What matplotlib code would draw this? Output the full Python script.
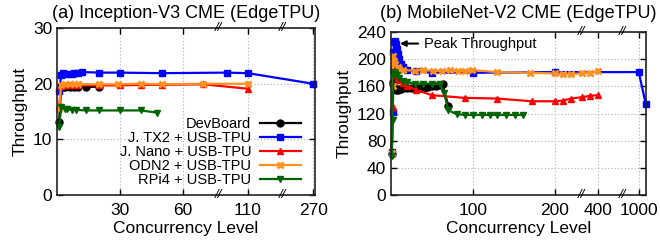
import numpy as np
import matplotlib
matplotlib.use("Agg")
import matplotlib.pyplot as plt
import matplotlib.transforms as mtransforms

plt.rcParams["font.family"] = ["Liberation Sans", "DejaVu Sans"]

labels = ["DevBoard", "J. TX2 + USB-TPU", "J. Nano + USB-TPU", "ODN2 + USB-TPU", "RPi4 + USB-TPU"]

# (a) Inception-V3
devboard_a_x = [1, 2, 3, 4, 6, 8, 10, 14, 20]
devboard_a_y = [13.1, 19.4, 19.5, 19.5, 19.5, 19.4, 19.5, 19.4, 19.5]
tx2_a_x = [1, 2, 3, 5, 7, 8, 10, 12, 20, 30, 50, 100, 110, 270]
tx2_a_y = [18.7, 21.5, 22.0, 21.8, 21.8, 21.9, 22.0, 22.1, 22.0, 22.0, 21.9, 22.0, 21.9, 20.0]
nano_a_x = [1, 2, 3, 4, 6, 8, 10, 20, 30, 40, 50, 70, 110]
nano_a_y = [16.0, 19.6, 19.7, 19.7, 19.7, 19.7, 19.7, 19.7, 19.7, 19.8, 19.8, 19.9, 19.1]
odn2_a_x = [1, 2, 4, 6, 8, 10, 20, 29, 40, 50, 70, 110]
odn2_a_y = [15.5, 19.8, 19.9, 19.9, 20.0, 19.9, 19.9, 19.9, 20.0, 19.9, 20.0, 20.0]
rpi4_a_x = [1, 2, 4, 5, 7, 9, 14, 20, 30, 40, 48]
rpi4_a_y = [12.3, 15.8, 15.5, 15.4, 15.3, 15.3, 15.2, 15.2, 15.2, 15.2, 14.8]

# (b) MobileNet-V2
devboard_b_x = [1, 2, 3, 4, 5, 6, 8, 10, 12, 15, 20, 25, 30, 35, 40, 45, 50, 55, 60, 63, 70]
devboard_b_y = [60, 166, 163, 158, 156, 155, 155, 156, 156, 157, 157, 157, 158, 157, 158, 159, 160, 161, 162, 163, 131]
tx2_b_x = [1, 2, 3, 4, 5, 6, 7, 8, 10, 12, 15, 20, 30, 50, 100, 200, 1000, 1100]
tx2_b_y = [64, 122, 210, 226, 227, 222, 215, 208, 200, 193, 188, 184, 182, 180, 180, 181, 181, 134]
nano_b_x = [1, 2, 3, 4, 5, 6, 8, 10, 15, 20, 30, 50, 90, 130, 172, 200, 210, 220, 300, 350, 400]
nano_b_y = [62, 130, 190, 185, 180, 177, 173, 170, 165, 161, 155, 147, 143, 142, 138, 138, 139, 142, 144, 146, 147]
odn2_b_x = [1, 2, 3, 4, 5, 8, 10, 15, 29, 39, 51, 62, 72, 82, 90, 99, 129, 170, 200, 210, 220, 300, 350, 400]
odn2_b_y = [62, 160, 205, 198, 193, 188, 186, 184, 183, 184, 183, 182, 184, 182, 183, 184, 181, 180, 179, 178, 178, 179, 180, 182]
rpi4_b_x = [1, 2, 3, 4, 5, 7, 10, 15, 20, 29, 39, 50, 60, 65, 70, 80, 90, 100, 111, 121, 130, 141, 151, 161]
rpi4_b_y = [57, 110, 178, 181, 180, 176, 172, 168, 166, 164, 164, 164, 163, 150, 125, 119, 118, 118, 118, 118, 118, 118, 118, 118]

styles = [
    dict(color="black", marker="o", ms=5),
    dict(color="#0000ff", marker="s", ms=5),
    dict(color="#ff0000", marker="^", ms=5),
    dict(color="#ff9020", marker="x", ms=5, mew=2),
    dict(color="#006400", marker="v", ms=5),
]


def broken_scale(data_pts, pos_pts):
    fwd = lambda x: np.interp(x, data_pts, pos_pts)
    inv = lambda p: np.interp(p, pos_pts, data_pts)
    return fwd, inv


def style_axes(ax):
    ax.tick_params(direction="in", top=True, right=True, length=4, width=1,
                   labelsize=12.5)
    ax.tick_params(axis="x", pad=6)
    for s in ax.spines.values():
        s.set_linewidth(1.2)
        s.set_color("#222222")
    ax.grid(True, color="#b0b0b0", linestyle=(0, (1, 2)), linewidth=0.8)
    ax.set_xlabel("Concurrency Level", fontsize=12.5, labelpad=2)
    ax.set_ylabel("Throughput", fontsize=12.5, labelpad=4)


def break_marks(ax, xs):
    trans = mtransforms.blended_transform_factory(ax.transData, ax.transAxes)
    for x in xs:
        for y in (0, 1):
            ax.text(x, y, "//", transform=trans, ha="center", va="center",
                    fontsize=9.5, style="italic", clip_on=False)


fig = plt.figure(figsize=(6.6, 2.44), dpi=100)
ax1 = fig.add_axes([0.0864, 0.2008, 0.391, 0.684])
ax2 = fig.add_axes([0.5924, 0.2008, 0.386, 0.668])

# (a)
f, i = broken_scale([0, 77, 96, 126, 239, 272], [0, 161, 161.01, 225, 225.01, 258])
ax1.set_xscale("function", functions=(f, i))
series_a = [(devboard_a_x, devboard_a_y), (tx2_a_x, tx2_a_y), (nano_a_x, nano_a_y),
            (odn2_a_x, odn2_a_y), (rpi4_a_x, rpi4_a_y)]
for (xs, ys), lab, st in zip(series_a, labels, styles):
    ax1.plot(xs, ys, label=lab, lw=1.6, clip_on=False, **st)
ax1.set_xlim(0, 272)
ax1.set_ylim(0, 30)
ax1.set_xticks([30, 60, 110, 270])
ax1.set_yticks([0, 10, 20, 30])
style_axes(ax1)
ax1.set_title("(a) Inception-V3 CME (EdgeTPU)", fontsize=13, pad=7)
break_marks(ax1, [86, 180])
ax1.legend(loc="lower right", bbox_to_anchor=(0.945, 0.05), markerfirst=False,
           frameon=False, fontsize=10.5, handlelength=2.8, labelspacing=0.0,
           borderaxespad=0, borderpad=0, handletextpad=0.6)

# (b)
f, i = broken_scale([0, 233, 300, 556, 771, 1100], [0, 191, 191.01, 232, 232.01, 255])
ax2.set_xscale("function", functions=(f, i))
series_b = [(devboard_b_x, devboard_b_y), (tx2_b_x, tx2_b_y), (nano_b_x, nano_b_y),
            (odn2_b_x, odn2_b_y), (rpi4_b_x, rpi4_b_y)]
for (xs, ys), lab, st in zip(series_b, labels, styles):
    ax2.plot(xs, ys, label=lab, lw=1.6, clip_on=False, **st)
ax2.set_xlim(0, 1100)
ax2.set_ylim(0, 240)
ax2.set_xticks([100, 200, 400, 1000])
ax2.set_yticks(range(0, 241, 40))
style_axes(ax2)
ax2.set_title("(b) MobileNet-V2 CME (EdgeTPU)", fontsize=13, pad=10)
break_marks(ax2, [266, 660])
ax2.annotate("Peak Throughput", xy=(11, 223), xytext=(40, 223), ha="left", va="center",
             fontsize=10.5, arrowprops=dict(arrowstyle="-|>", color="black", lw=1.5,
                                            shrinkA=2, shrinkB=0, mutation_scale=8))

fig.savefig("out.png", dpi=100)
